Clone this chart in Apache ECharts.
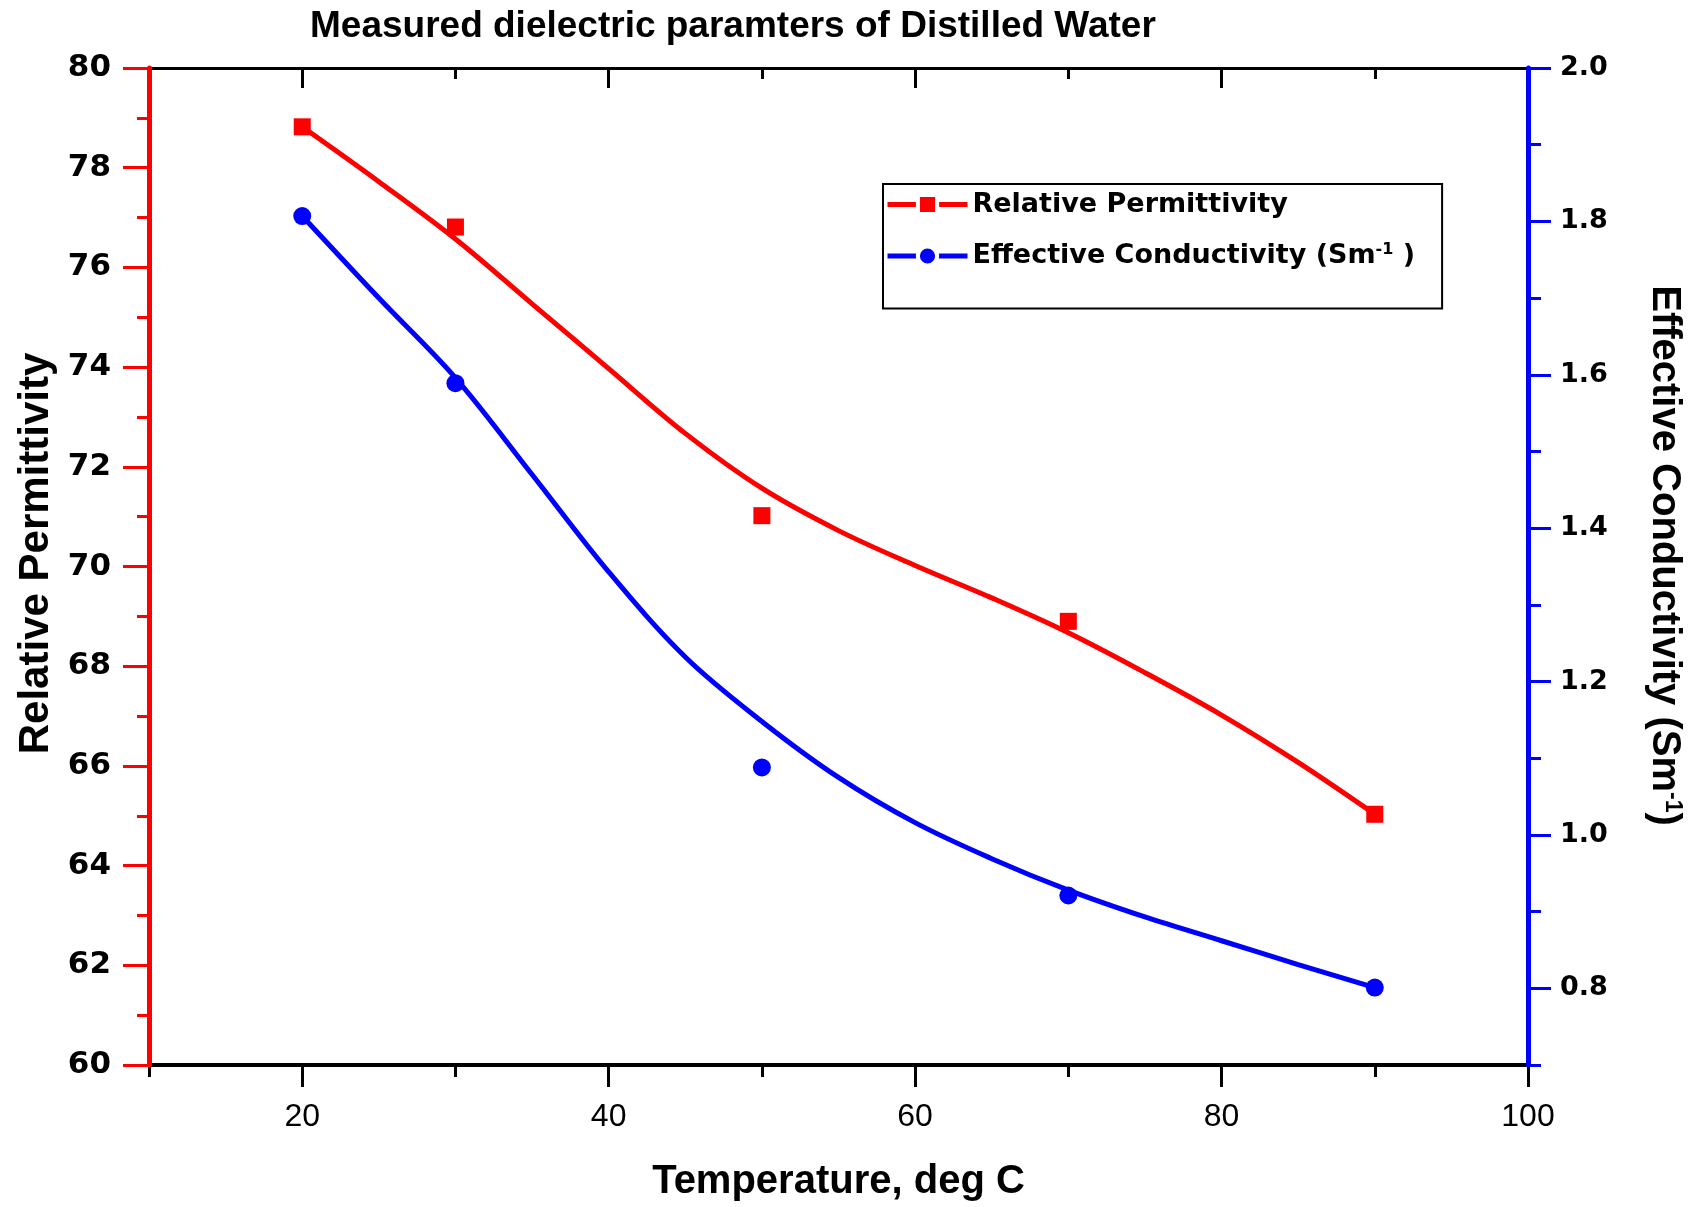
<!DOCTYPE html>
<html><head><meta charset="utf-8">
<script src="https://cdn.jsdelivr.net/npm/echarts@6/dist/echarts.min.js"></script>
<style>html,body{margin:0;padding:0;background:#fff}#c{width:1698px;height:1207px}</style>
</head><body><div id="c"></div>
<script>
// measured points
const temps = [20, 30, 50, 70, 90];
const permittivity = [78.82, 76.81, 71.02, 68.90, 65.03];
const conductivity = [1.807, 1.589, 1.088, 0.921, 0.801];
// fitted curves
const fitTemps = [20, 25, 30, 35, 40, 45, 50, 55, 60, 65, 70, 75, 80, 85, 90];
const permittivityFit = [78.82, 77.72, 76.57, 75.27, 73.97, 72.67, 71.57, 70.72, 70.02, 69.37, 68.67, 67.87, 67.02, 66.07, 65.03];
const conductivityFit = [1.807, 1.70, 1.596, 1.47, 1.343, 1.232, 1.148, 1.075, 1.016, 0.969, 0.928, 0.893, 0.862, 0.831, 0.801];
// tick labels
const xMajorTicks = [20, 40, 60, 80, 100];
const xMinorTicks = [10, 30, 50, 70, 90];
const rightMajorTicks = [0.8, 1.0, 1.2, 1.4, 1.6, 1.8, 2.0];
const rightMinorTicks = [0.7, 0.9, 1.1, 1.3, 1.5, 1.7, 1.9];

const RED = '#ff0000', BLUE = '#0000ff';
const pair = (xs, ys) => xs.map((x, i) => [x, ys[i]]);

const chart = echarts.init(document.getElementById('c'));
const xBase = {type: 'value', min: 10, max: 100, splitLine: {show: false}};
chart.setOption({
  animation: false,
  backgroundColor: '#fff',
  title: {
    text: 'Measured dielectric paramters of Distilled Water',
    left: 310, top: 8, padding: 0,
    textStyle: {fontFamily: 'Liberation Sans', fontWeight: 'bold', fontSize: 37, color: '#000'}
  },
  grid: {left: 149, right: 170, top: 68, bottom: 137, containLabel: false},
  legend: {
    orient: 'vertical', left: 883, top: 184,
    data: ['Relative Permittivity', 'Effective Conductivity'],
    itemWidth: 80, itemHeight: 24, itemGap: 24,
    itemStyle: {borderColor: '#fff', borderWidth: 4},
    lineStyle: {width: 5},
    borderColor: '#000', borderWidth: 2, padding: [7, 27, 39, 2],
    textStyle: {fontFamily: 'DejaVu Sans', fontWeight: 'bold', fontSize: 27, color: '#000',
      rich: {
        b: {fontFamily: 'DejaVu Sans', fontWeight: 'bold', fontSize: 27, color: '#000'},
        s: {fontFamily: 'DejaVu Sans', fontWeight: 'bold', fontSize: 16, color: '#000', verticalAlign: 'top', padding: [0, 0, 12, 0]}
      }},
    formatter: n => n === 'Effective Conductivity' ? '{b|Effective Conductivity (Sm}{s|-1}{b| )}' : '{b|' + n + '}'
  },
  xAxis: [
    Object.assign({}, xBase, {
      position: 'bottom',
      name: 'Temperature, deg C', nameLocation: 'middle', nameGap: 97,
      nameTextStyle: {fontFamily: 'Liberation Sans', fontWeight: 'bold', fontSize: 40, color: '#000'},
      axisLine: {lineStyle: {color: '#000', width: 4}},
      axisTick: {customValues: xMajorTicks, length: 22, lineStyle: {color: '#000', width: 3}},
      axisLabel: {customValues: xMajorTicks, margin: 36, fontFamily: 'Liberation Sans', fontSize: 32, color: '#000'}
    }),
    Object.assign({}, xBase, {
      position: 'bottom',
      axisLine: {show: false},
      axisTick: {customValues: xMinorTicks, length: 12, lineStyle: {color: '#000', width: 3}},
      axisLabel: {show: false}
    }),
    Object.assign({}, xBase, {
      position: 'top',
      axisLine: {lineStyle: {color: '#000', width: 3}},
      axisTick: {inside: true, customValues: [20, 40, 60, 80], length: 20, lineStyle: {color: '#000', width: 3}},
      axisLabel: {show: false}
    }),
    Object.assign({}, xBase, {
      position: 'top',
      axisLine: {show: false},
      axisTick: {inside: true, customValues: [30, 50, 70, 90], length: 11, lineStyle: {color: '#000', width: 3}},
      axisLabel: {show: false}
    })
  ],
  yAxis: [
    {
      type: 'value', position: 'left', min: 60, max: 80, interval: 2,
      splitLine: {show: false},
      name: 'Relative Permittivity', nameLocation: 'middle', nameGap: 91,
      nameTextStyle: {fontFamily: 'Liberation Sans', fontWeight: 'bold', fontSize: 42, color: '#000', padding: [0, 0, 0, 26]},
      axisLine: {lineStyle: {color: RED, width: 5}},
      axisTick: {length: 26, lineStyle: {color: RED, width: 3}},
      minorTick: {show: true, splitNumber: 2, length: 12, lineStyle: {color: RED, width: 3}},
      minorSplitLine: {show: false},
      axisLabel: {margin: 38, fontFamily: 'DejaVu Sans', fontWeight: 'bold', fontSize: 31, color: '#000'},
      z: 5
    },
    {
      type: 'value', position: 'right', min: 0.7, max: 2.0,
      splitLine: {show: false},
      name: '{a|Effective Conductivity (Sm}{s|-1}{a|)}', nameLocation: 'middle', nameGap: 116, nameRotate: -90,
      nameTextStyle: {
        fontFamily: 'Liberation Sans', fontWeight: 'bold', fontSize: 40, color: '#000', padding: [0, 22, 0, 0],
        rich: {
          a: {fontFamily: 'Liberation Sans', fontWeight: 'bold', fontSize: 40, color: '#000'},
          s: {fontFamily: 'Liberation Sans', fontWeight: 'bold', fontSize: 23, color: '#000', verticalAlign: 'top', padding: [0, 0, 16, 0]}
        }
      },
      axisLine: {lineStyle: {color: BLUE, width: 5}},
      axisTick: {customValues: rightMajorTicks, length: 23, lineStyle: {color: BLUE, width: 3}},
      axisLabel: {customValues: rightMajorTicks, margin: 32, fontFamily: 'DejaVu Sans', fontWeight: 'bold', fontSize: 27, color: '#000',
        formatter: v => Number(v).toFixed(1)},
      z: 5
    },
    {
      type: 'value', position: 'right', min: 0.7, max: 2.0,
      splitLine: {show: false},
      axisLine: {show: false},
      axisTick: {customValues: rightMinorTicks, length: 13, lineStyle: {color: BLUE, width: 3}},
      axisLabel: {show: false}
    }
  ],
  series: [
    {
      name: 'Relative Permittivity', type: 'line', xAxisIndex: 0, yAxisIndex: 0,
      data: pair(fitTemps, permittivityFit), smooth: 0.35,
      symbol: 'rect', symbolSize: 15, showSymbol: false,
      lineStyle: {color: RED, width: 5}, itemStyle: {color: RED}, z: 3
    },
    {
      name: 'Permittivity points', type: 'scatter', xAxisIndex: 0, yAxisIndex: 0,
      data: pair(temps, permittivity), symbol: 'rect', symbolSize: 17,
      itemStyle: {color: RED, opacity: 1}, z: 4
    },
    {
      name: 'Effective Conductivity', type: 'line', xAxisIndex: 0, yAxisIndex: 1,
      data: pair(fitTemps, conductivityFit), smooth: 0.35,
      symbol: 'circle', symbolSize: 15, showSymbol: false,
      lineStyle: {color: BLUE, width: 5}, itemStyle: {color: BLUE}, z: 3
    },
    {
      name: 'Conductivity points', type: 'scatter', xAxisIndex: 0, yAxisIndex: 1,
      data: pair(temps, conductivity), symbol: 'circle', symbolSize: 18,
      itemStyle: {color: BLUE, opacity: 1}, z: 4
    }
  ]
});
</script>
</body></html>
